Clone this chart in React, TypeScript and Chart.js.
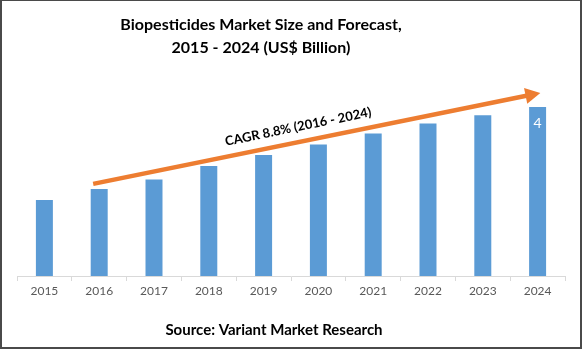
import React, { useEffect, useRef } from "react";
import { Chart, registerables } from "chart.js";

Chart.register(...registerables);

const years = ["2015", "2016", "2017", "2018", "2019", "2020", "2021", "2022", "2023", "2024"];
const marketSize = [1.8, 2.06, 2.28, 2.6, 2.86, 3.11, 3.37, 3.61, 3.8, 4.0];
const valueLabels = ["", "", "", "", "", "", "", "", "", "4"];
const titleLines = ["Biopesticides Market Size and Forecast,", "2015 - 2024 (US$ Billion)"];
const sourceText = "Source: Variant Market Research";
const cagrText = "CAGR 8.8% (2016 - 2024)";

const FONT = "Lato, 'Open Sans', sans-serif";

const decorPlugin = {
  id: "decor",
  beforeDraw(chart: any) {
    const ctx = chart.ctx;
    ctx.save();
    ctx.fillStyle = "#ffffff";
    ctx.fillRect(0, 0, chart.width, chart.height);
    ctx.restore();
  },
  afterDraw(chart: any) {
    const ctx = chart.ctx;
    const xs = chart.scales.x;
    const ys = chart.scales.y;
    ctx.save();
    // border
    ctx.fillStyle = "#4a4a4a";
    ctx.fillRect(0, 0, 2, 349);
    ctx.fillRect(0, 0, 582, 1);
    ctx.fillRect(580, 0, 2, 349);
    ctx.fillRect(0, 347, 582, 2);

    // titles
    ctx.fillStyle = "#000000";
    ctx.textAlign = "center";
    ctx.textBaseline = "middle";
    ctx.font = `bold 16px ${FONT}`;
    ctx.fillText(titleLines[0], 261, 25);
    ctx.fillText(titleLines[1], 261, 48);
    ctx.font = `bold 15px ${FONT}`;
    ctx.fillText(sourceText, 274, 330);

    // arrow
    const step = xs.getPixelForValue(1) - xs.getPixelForValue(0);
    const x0 = xs.getPixelForValue(1) - step * 0.11;
    const y0 = ys.getPixelForValue(marketSize[1]) - 5;
    const x1 = xs.getPixelForValue(9) + step * 0.05;
    const y1 = ys.getPixelForValue(marketSize[9]) - 14;
    const ang = Math.atan2(y1 - y0, x1 - x0);
    const headLen = 15;
    const headW = 8;
    const bx = x1 - headLen * Math.cos(ang);
    const by = y1 - headLen * Math.sin(ang);
    ctx.strokeStyle = "#ED7D31";
    ctx.lineWidth = 4.5;
    ctx.lineCap = "butt";
    ctx.beginPath();
    ctx.moveTo(x0, y0);
    ctx.lineTo(bx + 2 * Math.cos(ang), by + 2 * Math.sin(ang));
    ctx.stroke();
    ctx.fillStyle = "#ED7D31";
    ctx.beginPath();
    ctx.moveTo(x1, y1);
    ctx.lineTo(bx + headW * Math.sin(ang), by - headW * Math.cos(ang));
    ctx.lineTo(bx - headW * Math.sin(ang), by + headW * Math.cos(ang));
    ctx.closePath();
    ctx.fill();

    // CAGR text
    const tx = x0 + (x1 - x0) * 0.465;
    const ty = y0 + (y1 - y0) * 0.465;
    ctx.translate(tx + 15 * Math.sin(ang), ty - 15 * Math.cos(ang));
    ctx.rotate(ang);
    ctx.fillStyle = "#000000";
    ctx.font = `bold 13px ${FONT}`;
    ctx.textAlign = "center";
    ctx.textBaseline = "middle";
    ctx.fillText(cagrText, 0, 0);
    ctx.restore();

    // value labels
    ctx.save();
    ctx.fillStyle = "#ffffff";
    ctx.font = `14px ${FONT}`;
    ctx.textAlign = "center";
    ctx.textBaseline = "middle";
    valueLabels.forEach((lab, i) => {
      if (!lab) return;
      ctx.fillText(lab, xs.getPixelForValue(i), ys.getPixelForValue(marketSize[i]) + 17);
    });
    ctx.restore();
  },
};

export default function App() {
  const ref = useRef<HTMLCanvasElement>(null);
  useEffect(() => {
    const chart = new Chart(ref.current as HTMLCanvasElement, {
      type: "bar",
      data: {
        labels: years,
        datasets: [
          {
            data: marketSize,
            backgroundColor: "#5B9BD5",
            borderWidth: 0,
            categoryPercentage: 1,
            barPercentage: 0.31,
          },
        ],
      },
      plugins: [decorPlugin],
      options: {
        responsive: false,
        animation: false,
        layout: { padding: { left: 17, right: 18, top: 90, bottom: 44 } },
        plugins: { legend: { display: false }, tooltip: { enabled: false }, title: { display: false } },
        scales: {
          x: {
            afterFit(scale: any) {
              scale.height = 30;
            },
            grid: {
              drawOnChartArea: false,
              drawTicks: true,
              tickLength: 5,
              color: "#d9d9d9",
              offset: true,
            },
            border: { color: "#d9d9d9", width: 1 },
            ticks: { color: "#595959", font: { family: FONT, size: 12 }, padding: 3 },
          },
          y: {
            display: false,
            min: 0,
            max: 4.4,
          },
        },
      },
    } as any);
    return () => chart.destroy();
  }, []);
  return (
    <div style={{ position: "fixed", left: 0, top: 0, width: 583, height: 350 }}>
      <canvas ref={ref} width={583} height={350} style={{ width: 583, height: 350, display: "block" }} />
    </div>
  );
}
